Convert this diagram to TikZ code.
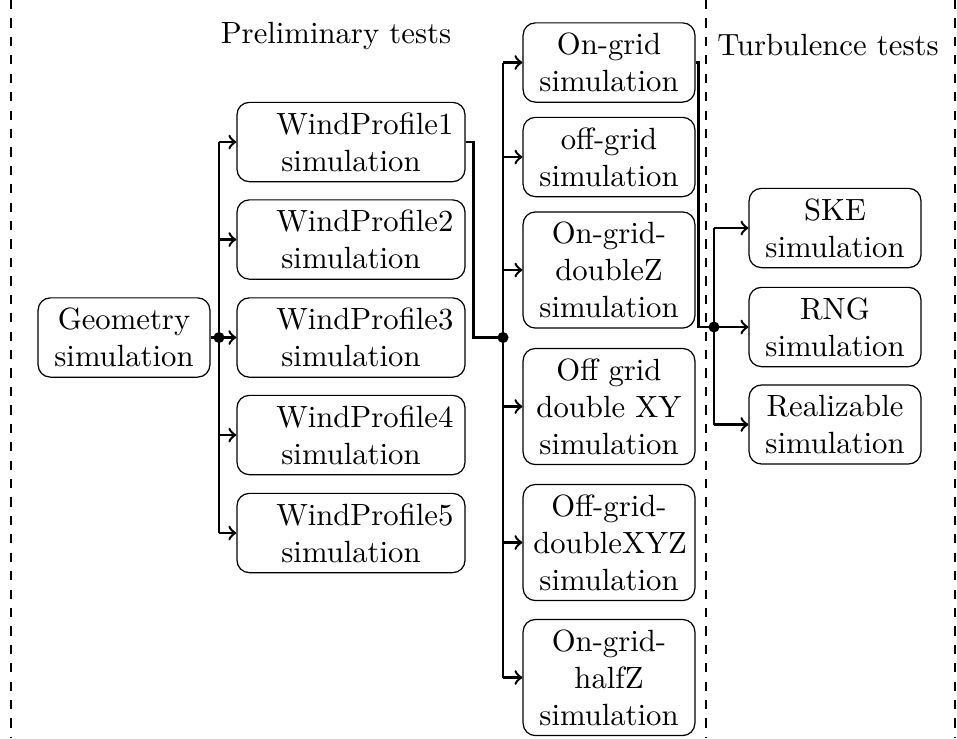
\documentclass[tikz,border=0pt]{standalone}
\usetikzlibrary{calc}
\begin{document}
\begin{tikzpicture}[x=0.3257pt,y=-0.3257pt,
  box/.style={draw,rounded corners=4pt,align=center,inner sep=0.333em,text width=#1},
  box/.default=49.3pt,
  conn/.style={thick},
  arr/.style={thick,->},
  bus/.style={thick},
  sep/.style={semithick,dashed},
  dot/.style={circle,fill,inner sep=0pt,minimum size=3.6pt}]
\useasboundingbox (0,0) rectangle (957,738);
% separators
\coordinate (s1a) at (11,0); \coordinate (s1b) at (11,738);
\coordinate (s2a) at (706,0); \coordinate (s2b) at (706,738);
\coordinate (s3a) at (955,0); \coordinate (s3b) at (955,738);
\draw[sep] (s1a) -- (s1b);
\draw[sep] (s2a) -- (s2b);
\draw[sep] (s3a) -- (s3b);
% titles
\node[anchor=base] (t1) at (336,43) {Preliminary tests};
\node[anchor=base] (t2) at (828,55) {Turbulence tests};
% boxes
\node[box] (geo) at (124,337.5) {Geometry\\simulation};
\node[box=67.6pt] (wp1) at (351,142) {\hspace*{9pt}WindProfile1\\simulation};
\node[box=67.6pt] (wp2) at (351,239.5) {\hspace*{9pt}WindProfile2\\simulation};
\node[box=67.6pt] (wp3) at (351,337.5) {\hspace*{9pt}WindProfile3\\simulation};
\node[box=67.6pt] (wp4) at (351,435) {\hspace*{9pt}WindProfile4\\simulation};
\node[box=67.6pt] (wp5) at (351,533) {\hspace*{9pt}WindProfile5\\simulation};
\node[box] (m1) at (609,62.5) {On-grid\\simulation};
\node[box] (m2) at (609,157) {off-grid\\simulation};
\node[box] (m3) at (609,270) {On-grid-\\doubleZ\\simulation};
\node[box] (m4) at (609,406.5) {Off grid\\double XY\\simulation};
\node[box] (m5) at (609,542.5) {Off-grid-\\doubleXYZ\\simulation};
\node[box] (m6) at (609,677.5) {On-grid-\\halfZ\\simulation};
\node[box] (r1) at (835,228) {SKE\\simulation};
\node[box] (r2) at (835,327) {RNG\\simulation};
\node[box] (r3) at (835,424.5) {Realizable\\simulation};
% first stage
\coordinate (d1) at (219,337.5);
\draw[conn] (geo.east) -- (d1);
\draw[bus] (d1 |- wp1.west) -- (d1 |- wp5.west);
\foreach \n in {wp1,wp2,wp3,wp4,wp5} \draw[arr] (d1 |- \n.west) -- (\n.west);
\node[dot] (dd1) at (d1) {};
% second stage
\coordinate (d2) at (503,337.5);
\draw[conn] (wp1.east) -- ++(8,0) |- (d2);
\draw[bus] (d2 |- m1.west) -- (d2 |- m6.west);
\foreach \n in {m1,m2,m3,m4,m5,m6} \draw[arr] (d2 |- \n.west) -- (\n.west);
\node[dot] (dd2) at (d2) {};
% third stage
\coordinate (d3) at (714,327);
\draw[conn] (m1.east) -- ++(3,0) |- (d3);
\draw[bus] (d3 |- r1.west) -- (d3 |- r3.west);
\foreach \n in {r1,r2,r3} \draw[arr] (d3 |- \n.west) -- (\n.west);
\node[dot] (dd3) at (d3) {};
\end{tikzpicture}
\end{document}
